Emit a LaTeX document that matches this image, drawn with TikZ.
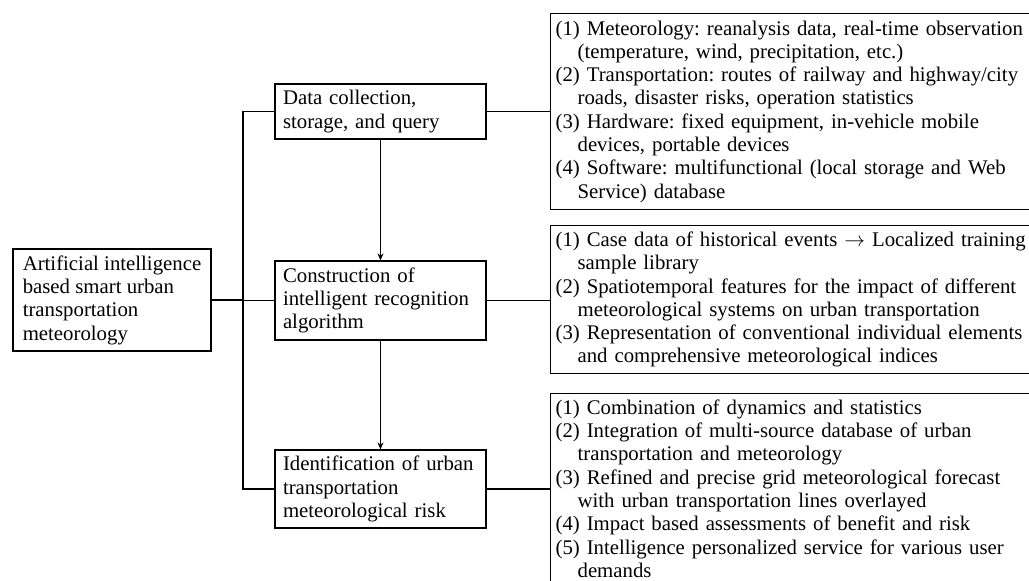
\documentclass[tikz,border=0pt]{standalone}
\usepackage{fontspec}
\setmainfont{Liberation Serif}
\frenchspacing
\usetikzlibrary{arrows.meta}
\newlength\hng
\setlength\hng{22pt}
\newcommand\cont{\hspace*{\hng}}
\tikzset{
  box/.style={draw, line width=1.2pt, rectangle, align=left, inner ysep=0pt,
    font=\fontsize{20.8}{23.3}\selectfont},
  midbox/.style={box, minimum width=211pt, text width=195pt, inner xsep=8pt},
  rbox/.style={box, anchor=north west, text width=515pt, inner xsep=5pt},
  conn/.style={line width=1.2pt},
  arr/.style={line width=1.2pt, -{Stealth[length=7pt,width=6pt]}}
}
\begin{document}
\begin{tikzpicture}[x=1pt,y=-1pt]
\useasboundingbox (0,0) rectangle (1029,581);
\clip (0,0) rectangle (1029,581);
\node[box, minimum width=198pt, minimum height=102pt] (root) at (112,300)
  {Artificial intelligence\\based smart urban\\transportation\\meteorology};
\node[midbox, minimum height=55pt] (m1) at (380.5,111.5) {Data collection,\\storage, and query};
\node[midbox, minimum height=79pt] (m2) at (380.5,300.5) {Construction of\\intelligent recognition\\algorithm};
\node[midbox, minimum height=78pt] (m3) at (380.5,489) {Identification of urban\\transportation\\meteorological risk};
\node[rbox, minimum height=196pt] (r1) at (550,13) {(1) Meteorology: reanalysis data, real-time observation\\
\cont(temperature, wind, precipitation, etc.)\\
(2) Transportation: routes of railway and highway/city\\
\cont roads, disaster risks, operation statistics\\
(3) Hardware: fixed equipment, in-vehicle mobile\\
\cont devices, portable devices\\
(4) Software: multifunctional (local storage and Web\\
\cont Service) database};
\node[rbox, minimum height=148pt] (r2) at (550,225) {(1) Case data of historical events $\rightarrow$ Localized training\\
\cont sample library\\
(2) Spatiotemporal features for the impact of different\\
\cont meteorological systems on urban transportation\\
(3) Representation of conventional individual elements\\
\cont and comprehensive meteorological indices};
\node[rbox, minimum height=190pt] (r3) at (550,393) {(1) Combination of dynamics and statistics\\
(2) Integration of multi-source database of urban\\
\cont transportation and meteorology\\
(3) Refined and precise grid meteorological forecast\\
\cont with urban transportation lines overlayed\\
(4) Impact based assessments of benefit and risk\\
(5) Intelligence personalized service for various user\\
\cont demands};
\coordinate (trunk) at (243,300);
\draw[conn] (root.east) -- (root.east -| trunk);
\draw[conn] (m1.west) -- (m1.west -| trunk) |- (m3.west);
\draw[conn] (m2.west) -- (m2.west -| trunk);
\draw[arr] (m1.south) -- (m2.north);
\draw[arr] (m2.south) -- (m3.north);
\draw[conn] (m1.east) -- (m1.east -| r1.west);
\draw[conn] (m2.east) -- (m2.east -| r2.west);
\draw[conn] (m3.east) -- (m3.east -| r3.west);
\end{tikzpicture}
\end{document}
